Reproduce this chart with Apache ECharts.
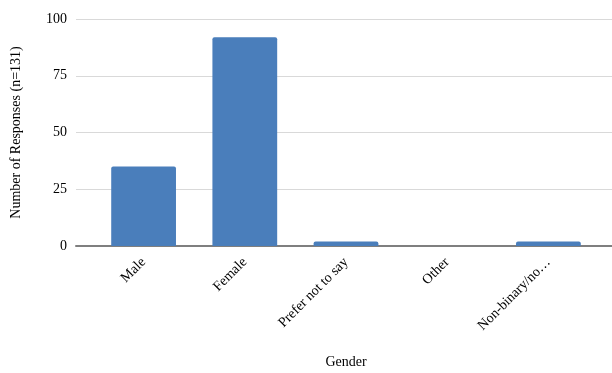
<!DOCTYPE html>
<html>
<head>
<meta charset="utf-8">
<script src="https://cdn.jsdelivr.net/npm/echarts@6/dist/echarts.min.js"></script>
<style>
  html, body { margin: 0; padding: 0; background: #ffffff; }
  #chart { width: 612px; height: 373px; }
</style>
</head>
<body>
<div id="chart"></div>
<script>
// Survey responses by gender
const categories = ['Male', 'Female', 'Prefer not to say', 'Other', 'Non-binary/no…'];
const responses = [35, 92, 2, 0, 2];
const yTicks = { min: 0, max: 100, interval: 25 };

const FONT = '"Liberation Serif", "DejaVu Serif", serif';
const chart = echarts.init(document.getElementById('chart'), null, { renderer: 'canvas' });

chart.setOption({
  animation: false,
  backgroundColor: '#ffffff',
  textStyle: { fontFamily: FONT },
  grid: [
    // frame grid: gridlines and baseline across the full plot width
    { left: 76, right: 0, top: 19, bottom: 127, containLabel: false, outerBoundsMode: 'none' },
    // bar grid: category bands
    { left: 93, right: 13, top: 19, bottom: 127, containLabel: false, outerBoundsMode: 'none' }
  ],
  xAxis: [
    {
      type: 'category', gridIndex: 0, data: [''],
      axisLine: { show: true, lineStyle: { color: '#7f7f7f', width: 2 } },
      axisTick: { show: false }, axisLabel: { show: false }, splitLine: { show: false }
    },
    {
      type: 'category', gridIndex: 1, data: categories,
      axisLine: { show: false }, axisTick: { show: false },
      axisLabel: {
        rotate: 45, margin: 14, interval: 0,
        fontFamily: FONT, fontSize: 14, color: '#000000'
      },
      name: 'Gender', nameLocation: 'middle', nameGap: 109,
      nameTextStyle: { fontFamily: FONT, fontSize: 14, color: '#000000' }
    }
  ],
  yAxis: [
    {
      type: 'value', gridIndex: 0, min: yTicks.min, max: yTicks.max, interval: yTicks.interval,
      axisLine: { show: false }, axisTick: { show: false },
      axisLabel: { margin: 9, fontFamily: FONT, fontSize: 14, color: '#000000' },
      splitLine: { lineStyle: { color: '#d9d9d9', width: 1 } },
      name: 'Number of Responses (n=131)', nameLocation: 'middle', nameGap: 53,
      nameTextStyle: { fontFamily: FONT, fontSize: 14, color: '#000000' }
    },
    {
      type: 'value', gridIndex: 1, min: yTicks.min, max: yTicks.max, interval: yTicks.interval,
      show: false, splitLine: { show: false }
    }
  ],
  series: [
    {
      type: 'bar', xAxisIndex: 1, yAxisIndex: 1,
      data: responses,
      barCategoryGap: '36%',
      itemStyle: {
        color: '#4a7ebb',
        borderRadius: [2, 2, 0, 0]
      },
      z: 3
    }
  ]
});
</script>
</body>
</html>
